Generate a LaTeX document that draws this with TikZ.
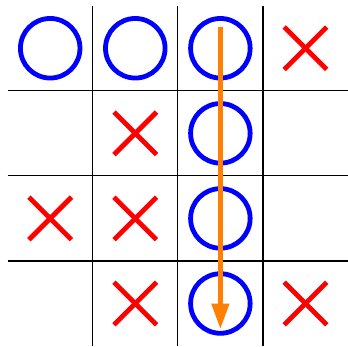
\documentclass[tikz,border=0pt]{standalone}
\usetikzlibrary{arrows.meta}
\begin{document}
\begin{tikzpicture}[
    nought/.style={draw=blue, ultra thick},
    cross/.style={draw=red, ultra thick},
    winline/.style={draw=orange, ultra thick, -{Triangle[length=0.3cm, width=0.2cm]}}
  ]
    \useasboundingbox (-0.09,0) rectangle (4,4.067);
    % grille 4x4 (sans bord extérieur)
    \foreach \i in {1,2,3} {
      \draw (\i,0) -- (\i,4);
      \draw (0,\i) -- (4,\i);
    }
    % ronds : colonne/ligne (ligne 0 en haut)
    \foreach \c/\r in {0/0, 1/0, 2/0, 2/1, 2/2, 2/3}
      \draw[nought] (\c+0.5,3.5-\r) circle (0.35);
    % croix
    \foreach \c/\r in {3/0, 1/1, 0/2, 1/2, 1/3, 3/3} {
      \draw[cross] (\c+0.25,3.25-\r) -- (\c+0.75,3.75-\r);
      \draw[cross] (\c+0.25,3.75-\r) -- (\c+0.75,3.25-\r);
    }
    % ligne gagnante dans la troisième colonne
    \coordinate (top) at (2.5,3.75);
    \coordinate (bottom) at (2.5,0.2);
    \draw[winline] (top) -- (bottom);
  \end{tikzpicture}
\end{document}
